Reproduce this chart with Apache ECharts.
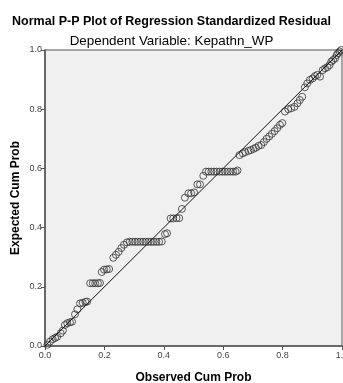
<!DOCTYPE html>
<html>
<head>
<meta charset="utf-8">
<script src="https://cdn.jsdelivr.net/npm/echarts@6/dist/echarts.min.js"></script>
<style>
html,body{margin:0;padding:0;background:#fff;}
#chart{width:343px;height:383px;}
</style>
</head>
<body>
<div id="chart"></div>
<script>
var titleText = "Normal P-P Plot of Regression Standardized Residual";
var subtitleText = "Dependent Variable: Kepathn_WP";
var xAxisName = "Observed Cum Prob";
var yAxisName = "Expected Cum Prob";
var tickValues = [0, 0.2, 0.4, 0.6, 0.8, 1.0];

var observedCumProb = [
  0.008, 0.017, 0.026, 0.034, 0.041, 0.053, 0.060, 0.067, 0.075, 0.084, 0.091,
  0.101, 0.109, 0.118, 0.127, 0.136, 0.142,
  0.152, 0.161, 0.169, 0.178, 0.185,
  0.191, 0.199, 0.208, 0.216,
  0.230, 0.239, 0.248, 0.257, 0.266,
  0.276, 0.285, 0.294, 0.303, 0.312, 0.321, 0.330, 0.339, 0.348, 0.357, 0.366, 0.375, 0.384, 0.393,
  0.404, 0.411,
  0.423, 0.432, 0.443, 0.452,
  0.461, 0.471,
  0.483, 0.492, 0.502,
  0.513, 0.522, 0.533,
  0.542, 0.551, 0.560, 0.569, 0.578, 0.588, 0.597, 0.606, 0.615, 0.624, 0.633, 0.642, 0.648,
  0.655, 0.666, 0.674, 0.685, 0.693, 0.702, 0.710, 0.719, 0.728, 0.737,
  0.746, 0.755, 0.764, 0.773, 0.782, 0.791, 0.799,
  0.808, 0.819, 0.829, 0.840, 0.850, 0.858, 0.866,
  0.875, 0.883, 0.892, 0.901, 0.909, 0.917, 0.926,
  0.935, 0.943, 0.951, 0.958, 0.964, 0.970, 0.977,
  0.982, 0.987, 0.992, 0.997
];
var expectedCumProb = [
  0.004, 0.015, 0.023, 0.027, 0.031, 0.043, 0.052, 0.071, 0.077, 0.080, 0.082,
  0.107, 0.124, 0.144, 0.146, 0.149, 0.150,
  0.212, 0.212, 0.212, 0.212, 0.213,
  0.250, 0.258, 0.259, 0.260,
  0.298, 0.308, 0.318, 0.331, 0.342,
  0.350, 0.352, 0.352, 0.352, 0.352, 0.352, 0.352, 0.352, 0.352, 0.352, 0.352, 0.352, 0.352, 0.353,
  0.378, 0.381,
  0.431, 0.431, 0.432, 0.432,
  0.463, 0.501,
  0.516, 0.516, 0.519,
  0.546, 0.546, 0.575,
  0.589, 0.589, 0.589, 0.589, 0.589, 0.589, 0.589, 0.589, 0.589, 0.589, 0.589, 0.589, 0.593,
  0.645, 0.651, 0.655, 0.659, 0.662, 0.666, 0.670, 0.676, 0.679, 0.689,
  0.700, 0.708, 0.717, 0.726, 0.736, 0.747, 0.753,
  0.792, 0.800, 0.803, 0.808, 0.820, 0.831, 0.842,
  0.874, 0.887, 0.899, 0.904, 0.912, 0.916, 0.910,
  0.932, 0.938, 0.942, 0.949, 0.961, 0.966, 0.972,
  0.983, 0.989, 0.995, 1.000
];
var refLineX = [0, 1];
var refLineY = [0, 1];

var points = observedCumProb.map(function (x, i) { return [x, expectedCumProb[i]]; });
var refLine = refLineX.map(function (x, i) { return [x, refLineY[i]]; });

var chart = echarts.init(document.getElementById('chart'), null, {renderer: 'canvas'});
var fontFam = '"Liberation Sans", Arial, sans-serif';
chart.setOption({
  animation: false,
  backgroundColor: '#ffffff',
  title: [
    {text: titleText, left: 'center', top: 10,
     textStyle: {fontFamily: fontFam, fontSize: 12.5, fontWeight: 'bold', color: '#000'}},
    {text: subtitleText, left: 'center', top: 30,
     textStyle: {fontFamily: fontFam, fontSize: 13.4, fontWeight: 'normal', color: '#000'}}
  ],
  grid: {left: 45, right: 1, top: 50, bottom: 37, show: true,
         outerBoundsMode: 'none', containLabel: false,
         backgroundColor: '#f0f0f0', borderColor: '#8c8c8c', borderWidth: 1.5},
  xAxis: {
    type: 'value', min: 0, max: 1, interval: 0.2,
    name: xAxisName, nameLocation: 'middle', nameGap: 26, nameMoveOverlap: false,
    nameTextStyle: {fontFamily: fontFam, fontSize: 12, fontWeight: 'bold', color: '#000'},
    axisLine: {show: true, onZero: false, lineStyle: {color: '#555', width: 1.5}},
    axisTick: {show: true, inside: false, length: 4, lineStyle: {color: '#555'}},
    axisLabel: {fontFamily: fontFam, fontSize: 9, color: '#444', margin: 5,
                showMaxLabel: true, showMinLabel: true,
                formatter: function (v) { return v.toFixed(1); }},
    splitLine: {show: false}
  },
  yAxis: {
    type: 'value', min: 0, max: 1, interval: 0.2,
    name: yAxisName, nameLocation: 'middle', nameGap: 23, nameRotate: 90, nameMoveOverlap: false,
    nameTextStyle: {fontFamily: fontFam, fontSize: 12, fontWeight: 'bold', color: '#000'},
    axisLine: {show: true, onZero: false, lineStyle: {color: '#555', width: 1.5}},
    axisTick: {show: true, inside: false, length: 4, lineStyle: {color: '#555'}},
    axisLabel: {fontFamily: fontFam, fontSize: 9, color: '#444', margin: 3,
                showMaxLabel: true, showMinLabel: true,
                formatter: function (v) { return v.toFixed(1); }},
    splitLine: {show: false}
  },
  series: [
    {type: 'line', data: refLine, showSymbol: false, symbol: 'none', silent: true,
     lineStyle: {color: '#111', width: 1}, z: 3},
    {type: 'scatter', data: points, symbol: 'circle', symbolSize: 7,
     itemStyle: {color: 'rgba(0,0,0,0)', borderColor: '#333', borderWidth: 1}, z: 2}
  ]
});
</script>
</body>
</html>
